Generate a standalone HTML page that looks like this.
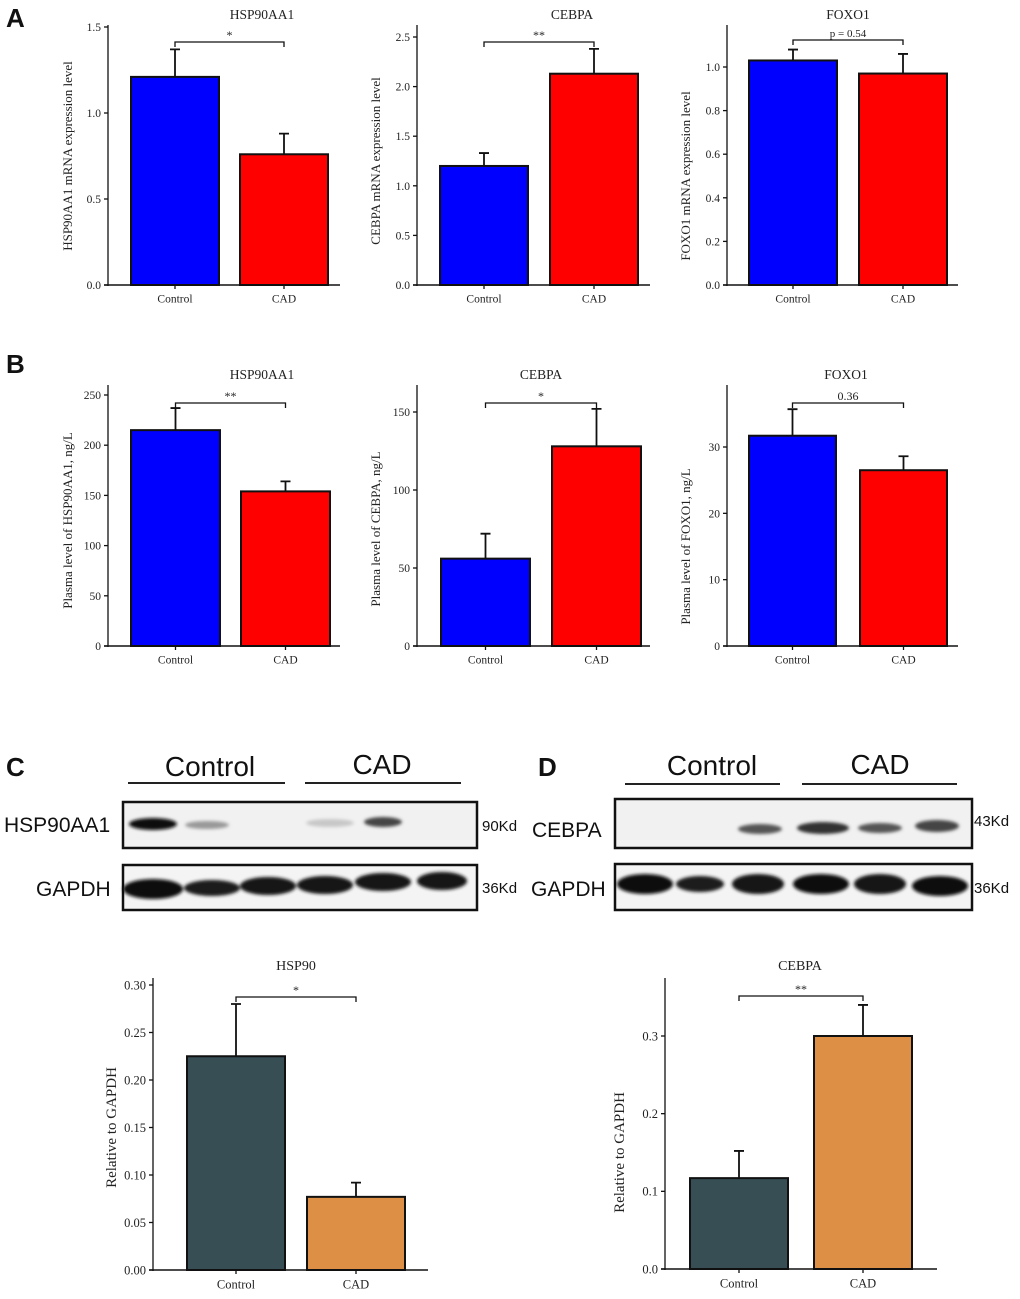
<!DOCTYPE html>
<html><head><meta charset="utf-8"><style>
html,body{margin:0;padding:0;background:#fff;}
svg{display:block;}
text{font-family:"Liberation Serif",serif;fill:#222;}
.sans{font-family:"Liberation Sans",sans-serif;fill:#111;}
</style></head><body>
<svg id="fig" width="1020" height="1299" viewBox="0 0 1020 1299" xmlns="http://www.w3.org/2000/svg">
<defs><filter id="blur" x="-20%" y="-50%" width="140%" height="200%"><feGaussianBlur stdDeviation="1.6"/></filter></defs>
<text class="sans" x="6" y="27" font-size="26" font-weight="bold">A</text>
<text class="sans" x="6" y="373" font-size="26" font-weight="bold">B</text>
<text class="sans" x="6" y="776" font-size="26" font-weight="bold">C</text>
<text class="sans" x="538" y="776" font-size="26" font-weight="bold">D</text>

<g>
<text class="sans" x="210" y="776" font-size="28" text-anchor="middle" fill="#111">Control</text>
<text class="sans" x="382" y="774" font-size="28" text-anchor="middle">CAD</text>
<line x1="128" y1="783" x2="285" y2="783" stroke="#222" stroke-width="2"/>
<line x1="305" y1="783" x2="461" y2="783" stroke="#222" stroke-width="2"/>
<rect x="123" y="802" width="354" height="46" fill="#f1f1f1" stroke="#111" stroke-width="2.5"/>
<rect x="123" y="865" width="354" height="45" fill="#f4f4f4" stroke="#111" stroke-width="2.5"/>
<g filter="url(#blur)">
<ellipse cx="153" cy="824" rx="24" ry="6" fill="#111"/>
<ellipse cx="207" cy="825" rx="22" ry="4" fill="#999"/>
<ellipse cx="330" cy="823" rx="24" ry="4" fill="#c8c8c8"/>
<ellipse cx="383" cy="822" rx="19" ry="5" fill="#444"/>
<ellipse cx="153" cy="889" rx="30" ry="10" fill="#111"/>
<ellipse cx="212" cy="888" rx="28" ry="8" fill="#1a1a1a"/>
<ellipse cx="268" cy="886" rx="28" ry="9" fill="#151515"/>
<ellipse cx="325" cy="885" rx="28" ry="9" fill="#151515"/>
<ellipse cx="383" cy="882" rx="28" ry="9" fill="#151515"/>
<ellipse cx="442" cy="881" rx="25" ry="9" fill="#151515"/>
</g>
<text class="sans" x="4" y="832" font-size="21">HSP90AA1</text>
<text class="sans" x="36" y="896" font-size="21">GAPDH</text>
<text class="sans" x="482" y="831" font-size="15">90Kd</text>
<text class="sans" x="482" y="893" font-size="15">36Kd</text>
</g>

<g>
<text class="sans" x="712" y="775" font-size="28" text-anchor="middle">Control</text>
<text class="sans" x="880" y="774" font-size="28" text-anchor="middle">CAD</text>
<line x1="625" y1="784" x2="780" y2="784" stroke="#222" stroke-width="2"/>
<line x1="802" y1="784" x2="957" y2="784" stroke="#222" stroke-width="2"/>
<rect x="615" y="799" width="357" height="49" fill="#f1f1f1" stroke="#111" stroke-width="2.5"/>
<rect x="615" y="864" width="357" height="46" fill="#f4f4f4" stroke="#111" stroke-width="2.5"/>
<g filter="url(#blur)">
<ellipse cx="760" cy="829" rx="22" ry="5" fill="#555"/>
<ellipse cx="823" cy="828" rx="26" ry="6" fill="#333"/>
<ellipse cx="880" cy="828" rx="22" ry="5" fill="#555"/>
<ellipse cx="937" cy="826" rx="22" ry="6" fill="#444"/>
<ellipse cx="645" cy="884" rx="28" ry="10" fill="#111"/>
<ellipse cx="700" cy="884" rx="24" ry="8" fill="#1a1a1a"/>
<ellipse cx="758" cy="884" rx="26" ry="10" fill="#151515"/>
<ellipse cx="821" cy="884" rx="28" ry="10" fill="#111"/>
<ellipse cx="880" cy="884" rx="26" ry="10" fill="#151515"/>
<ellipse cx="940" cy="886" rx="28" ry="10" fill="#111"/>
</g>
<text class="sans" x="532" y="837" font-size="21">CEBPA</text>
<text class="sans" x="531" y="896" font-size="21">GAPDH</text>
<text class="sans" x="974" y="826" font-size="15">43Kd</text>
<text class="sans" x="974" y="893" font-size="15">36Kd</text>
</g>
</svg>
<script>
// ---- data ----
const categories = ["Control", "CAD"];
const a1Values = [1.21, 0.76];
const a1Errors = [1.37, 0.88];
const a1Ticks = ["0.0", "0.5", "1.0", "1.5"];
const a2Values = [1.20, 2.13];
const a2Errors = [1.33, 2.38];
const a2Ticks = ["0.0", "0.5", "1.0", "1.5", "2.0", "2.5"];
const a3Values = [1.03, 0.97];
const a3Errors = [1.08, 1.06];
const a3Ticks = ["0.0", "0.2", "0.4", "0.6", "0.8", "1.0"];
const b1Values = [215, 154];
const b1Errors = [237, 164];
const b1Ticks = ["0", "50", "100", "150", "200", "250"];
const b2Values = [56, 128];
const b2Errors = [72, 152];
const b2Ticks = ["0", "50", "100", "150"];
const b3Values = [31.7, 26.5];
const b3Errors = [35.7, 28.6];
const b3Ticks = ["0", "10", "20", "30"];
const cValues = [0.225, 0.077];
const cErrors = [0.280, 0.092];
const cTicks = ["0.00", "0.05", "0.10", "0.15", "0.20", "0.25", "0.30"];
const dValues = [0.117, 0.300];
const dErrors = [0.152, 0.340];
const dTicks = ["0.0", "0.1", "0.2", "0.3"];

const NS = "http://www.w3.org/2000/svg";
const svg = document.getElementById("fig");
function mk(tag, attrs, parent) {
  const e = document.createElementNS(NS, tag);
  for (const k in attrs) e.setAttribute(k, attrs[k]);
  parent.appendChild(e);
  return e;
}
function chart(o) {
  const g = mk("g", {}, svg);
  
  
  const tv = o.ticks.map(Number);
  const maxT = tv[tv.length - 1];
  const y = v => o.y0 - (v / maxT) * (o.y0 - o.yTop);
  const fs = o.fs || 11.5;
  o.values.forEach((v, i) => {
    const bx = o.bars[i];
    const r = mk("rect", {x: bx, y: y(v), width: o.bw, height: o.y0 - y(v), fill: o.colors[i], stroke: "#111", "stroke-width": 2}, g);
    
    
    const cx = bx + o.bw / 2;
    const eb = mk("path", {d: `M${cx},${y(v)}V${y(o.errors[i])}M${cx - 5},${y(o.errors[i])}H${cx + 5}`, stroke: "#111", "stroke-width": 1.8, fill: "none"}, g);
    
    
    const lb = mk("text", {x: cx, y: o.y0 + fs + 6, "font-size": fs, "text-anchor": "middle"}, g);
    lb.textContent = categories[i];
    
    
    mk("line", {x1: cx, y1: o.y0, x2: cx, y2: o.y0 + 4, stroke: "#111", "stroke-width": 1.3}, g);
  });
  const ya = mk("line", {x1: o.ax, y1: o.y0 + 1, x2: o.ax, y2: o.axTop, stroke: "#111", "stroke-width": 1.3}, g);
  
  
  const xa = mk("line", {x1: o.ax - 4, y1: o.y0, x2: o.axRight, y2: o.y0, stroke: "#111", "stroke-width": 1.5}, g);
  
  
  o.ticks.forEach((t, i) => {
    const ty = y(tv[i]);
    mk("line", {x1: o.ax - 4, y1: ty, x2: o.ax, y2: ty, stroke: "#111", "stroke-width": 1.3}, g);
    const tt = mk("text", {x: o.ax - 7, y: ty + fs * 0.35, "font-size": fs, "text-anchor": "end"}, g);
    tt.textContent = t;
    
    
  });
  const ti = mk("text", {x: o.titleX, y: o.titleY, "font-size": o.tfs || 13.5, "text-anchor": "middle"}, g);
  ti.textContent = o.title;
  
  
  const yt = mk("text", {x: 0, y: 0, "font-size": o.yfs || 13, "text-anchor": "middle", transform: `translate(${o.ylx},${(o.y0 + o.yTop) / 2}) rotate(-90)`}, g);
  yt.textContent = o.ylabel;
  
  
  const c0 = o.bars[0] + o.bw / 2, c1 = o.bars[1] + o.bw / 2;
  const sb = mk("path", {d: `M${c0},${o.sigY + 5}V${o.sigY}H${c1}V${o.sigY + 5}`, stroke: "#111", "stroke-width": 1.3, fill: "none"}, g);
  
  
  const st = mk("text", {x: (c0 + c1) / 2, y: o.sigY - 3, "font-size": o.sigFs || 12, "text-anchor": "middle"}, g);
  st.textContent = o.sig;
  
  
}
const BR = ["#0000ff", "#ff0000"], OR = ["#364e54", "#dd8f45"];
chart({name: "chart-a-hsp90aa1-mrna", values: a1Values, errors: a1Errors, ticks: a1Ticks, colors: BR, ax: 108, axTop: 25, axRight: 340, y0: 285, yTop: 27, bars: [131, 240], bw: 88, title: "HSP90AA1", titleX: 262, titleY: 19, ylabel: "HSP90AA1 mRNA expression level", ylx: 72, sigY: 42, sig: "*"});
chart({name: "chart-a-cebpa-mrna", values: a2Values, errors: a2Errors, ticks: a2Ticks, colors: BR, ax: 417, axTop: 25, axRight: 650, y0: 285, yTop: 37, bars: [440, 550], bw: 88, title: "CEBPA", titleX: 572, titleY: 19, ylabel: "CEBPA mRNA expression level", ylx: 380, sigY: 42, sig: "**"});
chart({name: "chart-a-foxo1-mrna", values: a3Values, errors: a3Errors, ticks: a3Ticks, colors: BR, ax: 727, axTop: 25, axRight: 958, y0: 285, yTop: 67, bars: [749, 859], bw: 88, title: "FOXO1", titleX: 848, titleY: 19, ylabel: "FOXO1 mRNA expression level", ylx: 690, sigY: 40, sig: "p = 0.54", sigFs: 11});
chart({name: "chart-b-hsp90aa1-plasma", values: b1Values, errors: b1Errors, ticks: b1Ticks, colors: BR, ax: 108, axTop: 385, axRight: 340, y0: 646, yTop: 395, bars: [131, 241], bw: 89, title: "HSP90AA1", titleX: 262, titleY: 379, ylabel: "Plasma level of HSP90AA1, ng/L", ylx: 72, sigY: 403, sig: "**"});
chart({name: "chart-b-cebpa-plasma", values: b2Values, errors: b2Errors, ticks: b2Ticks, colors: BR, ax: 417, axTop: 385, axRight: 650, y0: 646, yTop: 412, bars: [441, 552], bw: 89, title: "CEBPA", titleX: 541, titleY: 379, ylabel: "Plasma level of CEBPA, ng/L", ylx: 380, sigY: 403, sig: "*"});
chart({name: "chart-b-foxo1-plasma", values: b3Values, errors: b3Errors, ticks: b3Ticks, colors: BR, ax: 727, axTop: 385, axRight: 958, y0: 646, yTop: 447, bars: [749, 860], bw: 87, title: "FOXO1", titleX: 846, titleY: 379, ylabel: "Plasma level of FOXO1, ng/L", ylx: 690, sigY: 403, sig: "0.36"});
chart({name: "chart-c-hsp90-relative", values: cValues, errors: cErrors, ticks: cTicks, colors: OR, ax: 153, axTop: 978, axRight: 428, y0: 1270, yTop: 985, bars: [187, 307], bw: 98, title: "HSP90", titleX: 296, titleY: 970, ylabel: "Relative to GAPDH", ylx: 116, yfs: 15, fs: 12.5, tfs: 14, sigY: 997, sig: "*"});
chart({name: "chart-d-cebpa-relative", values: dValues, errors: dErrors, ticks: dTicks, colors: OR, ax: 665, axTop: 978, axRight: 937, y0: 1269, yTop: 1036, bars: [690, 814], bw: 98, title: "CEBPA", titleX: 800, titleY: 970, ylabel: "Relative to GAPDH", ylx: 624, yfs: 15, fs: 12.5, tfs: 14, sigY: 996, sig: "**"});
</script>
</body></html>
